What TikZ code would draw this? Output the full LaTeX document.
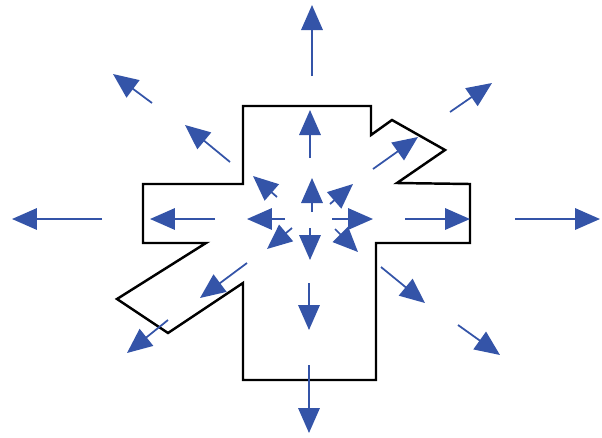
\documentclass[tikz,border=0pt]{standalone}
\usetikzlibrary{arrows.meta}
\definecolor{fieldblue}{RGB}{52,84,168}
\begin{document}
\begin{tikzpicture}[x=0.02cm, y=-0.02cm, outline/.style = {draw, line width=1.4pt, line join=miter}, field/.style = {fieldblue, line width=1pt, -{Triangle[length=5mm, width=4.3mm]}}]
        \useasboundingbox (0,0) rectangle (602,437);
        % cross shaped outline
        \draw[outline] (243,106) -- (371,106) -- (371,135) -- (392,120) -- (445,150) -- (397,183) -- (470,184) -- (470,243) -- (376,243) -- (376,380) -- (243,380) -- (243,283) -- (168,333) -- (117,299) -- (206,243) -- (143,243) -- (143,184) -- (243,184) -- cycle;
        % inner ring
        \foreach \xa/\ya/\xb/\yb in {312/212/312/178, 310/228/310/260, 285/219/247/219, 332/219/373/219, 277/197/253/176, 330/204/353/184, 292/228/267/249, 335/229/358/252}
                \draw[field] (\xa,\ya) -- (\xb,\yb);
        % middle ring
        \foreach \xa/\ya/\xb/\yb in {310/158/310/110, 309/283/309/330, 215/219/150/219, 405/219/470/219, 230/162/185/125, 373/169/418/137, 247/263/200/298, 381/267/425/303}
                \draw[field] (\xa,\ya) -- (\xb,\yb);
        % outer ring
        \foreach \xa/\ya/\xb/\yb in {312/76/312/5, 309/365/309/433, 102/219/12/219, 515/219/600/219, 152/103/113/74, 450/112/492/83, 168/320/127/353, 458/325/500/355}
                \draw[field] (\xa,\ya) -- (\xb,\yb);
\end{tikzpicture}
\end{document}
